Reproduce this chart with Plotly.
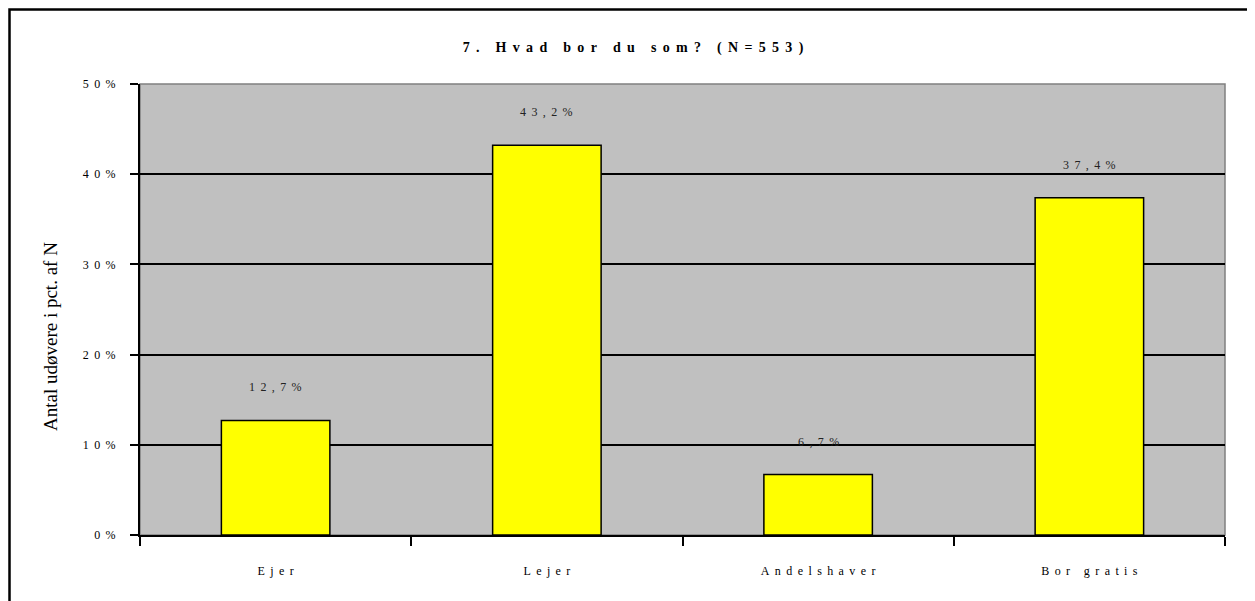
import plotly.graph_objects as go

categories = ["Ejer", "Lejer", "Andelshaver", "Bor gratis"]
values = [12.7, 43.2, 6.7, 37.4]
y_ticks = [0, 10, 20, 30, 40, 50]
title_text = "7. Hvad bor du som? (N=553)"
y_title = "Antal udøvere i pct. af N"


def spaced(s):
    # emulate the wide letter spacing of the original
    out = []
    for ch in s:
        out.append("\u00a0" if ch == " " else ch)
    return "\u2009 ".join(out)


def fmt(v):
    return spaced(f"{v:.1f}".replace(".", ",") + "%")


FONT = "Liberation Serif, Times New Roman, serif"

L, R, T, B = 132, 38, 76, 74
PW, PH = 1255 - L - R, 601 - T - B

fig = go.Figure()
fig.add_trace(go.Bar(
    x=categories,
    y=values,
    width=0.4,
    marker=dict(color="#FFFF00", line=dict(color="#000000", width=1.5)),
    hoverinfo="skip",
))

for c, v in zip(categories, values):
    fig.add_annotation(
        x=c, y=v, xref="x", yref="y",
        text=fmt(v), showarrow=False, yshift=33,
        font=dict(family=FONT, size=12, color="#222222"),
    )

# y axis title (placed like the original, slightly below centre)
fig.add_annotation(
    xref="paper", yref="paper",
    x=(50 - 8 - L) / PW, y=(PH + T - (337 - 8)) / PH,
    xanchor="center", yanchor="middle",
    text=y_title, textangle=-90, showarrow=False,
    font=dict(family=FONT, size=19, color="#000000"),
)

# outer chart border
fig.add_shape(
    type="rect", xref="paper", yref="paper",
    x0=(1.5 - L) / PW, x1=(1300 - L) / PW,
    y0=-0.3, y1=(PH + T - 1.5) / PH,
    line=dict(color="#000000", width=2.5), fillcolor="rgba(0,0,0,0)",
    layer="above",
)
# plot area top/right border (gray)
fig.add_shape(
    type="rect", xref="paper", yref="paper",
    x0=0, x1=1, y0=0, y1=1,
    line=dict(color="#808080", width=1.5), fillcolor="rgba(0,0,0,0)",
    layer="below",
)

fig.update_layout(
    width=1255, height=601,
    margin=dict(l=L, r=R, t=T, b=B),
    paper_bgcolor="#FFFFFF",
    plot_bgcolor="#C0C0C0",
    showlegend=False,
    title=dict(
        text="<b>" + spaced(title_text) + "</b>",
        x=(633 - 8) / 1255, xref="container", xanchor="center",
        y=1 - (47 - 8) / 601, yref="container", yanchor="middle",
        font=dict(family=FONT, size=14, color="#000000"),
    ),
    font=dict(family=FONT, color="#000000"),
)

fig.update_xaxes(
    type="category",
    tickmode="array",
    tickvals=categories,
    ticktext=[spaced(c) for c in categories],
    tickson="boundaries",
    ticks="outside", ticklen=9, tickwidth=1.5, tickcolor="#000000",
    showline=True, linecolor="#000000", linewidth=2,
    showgrid=False,
    tickfont=dict(family=FONT, size=12, color="#000000"),
    ticklabelstandoff=24,
)
fig.update_yaxes(
    range=[0, 50],
    tickmode="array",
    tickvals=y_ticks,
    ticktext=[spaced(f"{t}%") for t in y_ticks],
    ticks="outside", ticklen=8, tickwidth=1.5, tickcolor="#000000",
    showline=True, linecolor="#000000", linewidth=2,
    showgrid=True, gridcolor="#000000", gridwidth=1.6,
    zeroline=False,
    tickfont=dict(family=FONT, size=12, color="#000000"),
    ticklabelstandoff=12,
)

fig.write_html("out.html")
